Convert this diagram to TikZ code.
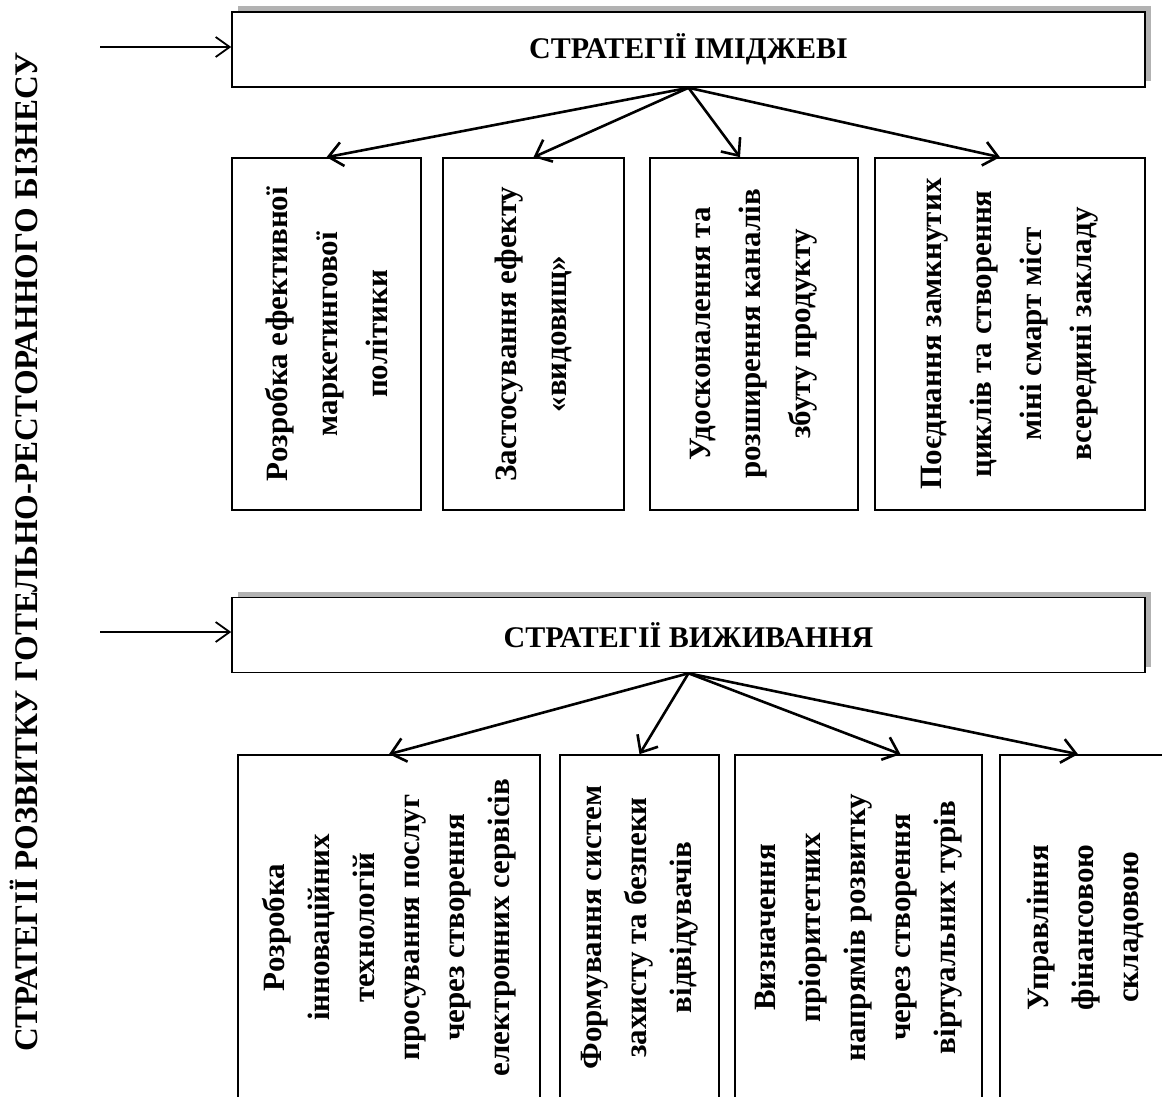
\documentclass[tikz,border=0pt]{standalone}
\usepackage{fontspec}
\setmainfont{Liberation Serif}
\usepackage{tikz}
\usetikzlibrary{positioning, calc, shadows, arrows.meta}
\tikzset{
	arrow/.style={line width=1.3pt, -{Straight Barb[length=7pt, width=12pt]}},
	inarrow/.style={line width=0.9pt, -{Straight Barb[length=7pt, width=10pt]}},
	headbox/.style={draw, line width=0.8pt, fill=white, minimum width=456.5pt, minimum height=37.5pt, inner sep=0pt,
		font=\fontsize{15}{18}\selectfont\bfseries,
		general shadow={fill=gray!60, shadow xshift=3pt, shadow yshift=3pt}},
	topbox/.style={draw, line width=0.8pt, rotate=90, align=center, inner sep=0pt, minimum width=176pt,
		font=\fontsize{15.5}{25}\selectfont\bfseries},
	lowbox/.style={draw, line width=0.8pt, rotate=90, align=center, inner sep=0pt, minimum width=172.5pt,
		font=\fontsize{15.5}{22.5}\selectfont\bfseries},
}

\begin{document}
\begin{tikzpicture}[x=0.5pt, y=0.5pt]
			\clip (0,0) rectangle (1162,-1097);

			\node[rotate=90, anchor=base, font=\fontsize{16.5}{20}\selectfont\bfseries] (title) at (38,-552) {СТРАТЕГІЇ РОЗВИТКУ ГОТЕЛЬНО-РЕСТОРАННОГО БІЗНЕСУ};

			% strategies of image
			\node[headbox] (image) at (688.5,-49.5) {СТРАТЕГІЇ ІМІДЖЕВІ};
			\coordinate (in1) at (100,-47);
			\draw[inarrow] (in1) -- (image.west |- in1);

			\node[topbox, minimum height=94.5pt] (u1) at (326.5,-334) {Розробка ефективної\\маркетингової\\політики};
			\node[topbox, minimum height=90.5pt] (u2) at (533.5,-334) {Застосування ефекту\\«видовищ»};
			\node[topbox, minimum height=104pt] (u3) at (754,-334) {Удосконалення та\\розширення каналів\\збуту продукту};
			\node[topbox, minimum height=135pt] (u4) at (1010,-334) {Поєднання замкнутих\\циклів та створення\\міні смарт міст\\всередині закладу};

			\draw[arrow] (image.south) -- (u1.east);
			\draw[arrow] (image.south) -- (u2.east);
			\draw[arrow] (image.south) -- ($(u3.east)+(-14,0)$);
			\draw[arrow] (image.south) -- ($(u4.east)+(-10,0)$);

			% strategies of survival
			\node[headbox] (survive) at (688.5,-635) {СТРАТЕГІЇ ВИЖИВАННЯ};
			\coordinate (in2) at (100,-632);
			\draw[inarrow] (in2) -- (survive.west |- in2);

			\node[lowbox, minimum height=151pt] (l1) at (389,-927.5) {Розробка\\інноваційних\\технологій\\просування послуг\\через створення\\електронних сервісів};
			\node[lowbox, minimum height=79.5pt] (l2) at (639.5,-927.5) {Формування систем\\захисту та безпеки\\відвідувачів};
			\node[lowbox, minimum height=123.5pt] (l3) at (858.5,-927.5) {Визначення\\пріоритетних\\напрямів розвитку\\через створення\\віртуальних турів};
			\node[lowbox, minimum height=85pt] (l4) at (1085,-927.5) {Управління\\фінансовою\\складовою};

			\draw[arrow] (survive.south) -- (l1.east);
			\draw[arrow] (survive.south) -- (l2.east);
			\draw[arrow] (survive.south) -- ($(l3.east)+(42,0)$);
			\draw[arrow] (survive.south) -- ($(l4.east)+(-7,0)$);
		\end{tikzpicture}
\end{document}
